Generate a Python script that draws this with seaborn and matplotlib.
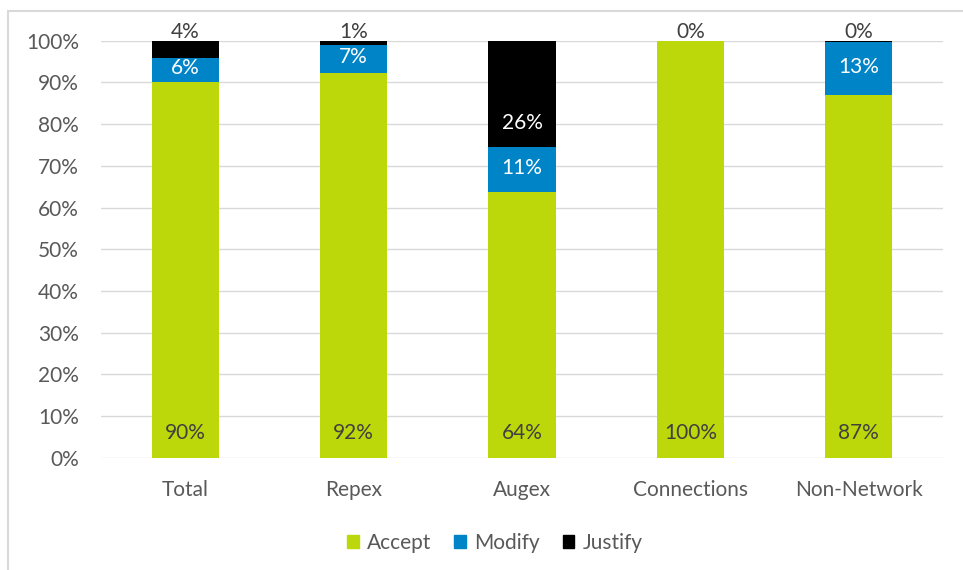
import matplotlib
matplotlib.use("Agg")
import matplotlib.pyplot as plt
import matplotlib.patches as mpatches
import seaborn as sns
import pandas as pd
import numpy as np

categories = ["Total", "Repex", "Augex", "Connections", "Non-Network"]
accept = [90.2, 92.3, 63.8, 100.0, 86.9]
modify = [5.7, 6.6, 10.7, 0.0, 12.9]
justify = [4.1, 1.1, 25.5, 0.0, 0.2]
series_names = ["Accept", "Modify", "Justify"]
yticks = [0, 10, 20, 30, 40, 50, 60, 70, 80, 90, 100]

c_accept = "#BCD80B"
c_modify = "#0084C8"
c_justify = "#000000"
txt = "#595959"

sns.set_theme(style="white")
plt.rcParams["font.family"] = ["Lato", "DejaVu Sans"]

df = pd.DataFrame({"cat": categories,
                   "a": np.array(accept) / 100,
                   "m": np.array(modify) / 100,
                   "j": np.array(justify) / 100})
df["am"] = df["a"] + df["m"]
df["amj"] = df["am"] + df["j"]

fig = plt.figure(figsize=(9.63, 5.70), dpi=100)
ax = fig.add_axes([101 / 963, 1 - 457.7 / 570, 842 / 963, 417 / 570])

# stacked via cumulative overlays
sns.barplot(data=df, x="cat", y="amj", color=c_justify, width=0.4, ax=ax,
            saturation=1, linewidth=0, zorder=2)
sns.barplot(data=df, x="cat", y="am", color=c_modify, width=0.4, ax=ax,
            saturation=1, linewidth=0, zorder=3)
sns.barplot(data=df, x="cat", y="a", color=c_accept, width=0.4, ax=ax,
            saturation=1, linewidth=0, zorder=4)

fs = 15
ax.set_ylim(0, 1)
ax.set_xlim(-0.5, len(categories) - 0.5)
ax.set_yticks(np.array(yticks) / 100)
ax.set_yticklabels([f"{v}%" for v in yticks])
ax.set_xlabel("")
ax.set_ylabel("")
ax.yaxis.grid(True, color="#D9D9D9", linewidth=1.0, zorder=0)
ax.set_axisbelow(True)
for s in ax.spines.values():
    s.set_visible(False)
ax.tick_params(axis="y", length=0, pad=16, labelsize=fs, labelcolor=txt)
ax.tick_params(axis="x", length=0, pad=16, labelsize=fs, labelcolor=txt)

for i, row in df.iterrows():
    # accept: inside base
    ax.text(i, 0.06, f"{round(row['a'] * 100):d}%", ha="center", va="center",
            fontsize=fs, color="#404040", zorder=6)
    # modify: centre of segment
    if row["m"] > 0:
        ax.text(i, row["a"] + row["m"] / 2 + 0.004, f"{round(row['m'] * 100):d}%",
                ha="center", va="center", fontsize=fs, color="white", zorder=6)
    # justify
    base = row["am"]
    top = row["amj"]
    yj = base + 0.058
    if yj < top:
        ax.text(i, yj, f"{round(row['j'] * 100):d}%", ha="center", va="center",
                fontsize=fs, color="white", zorder=6)
    else:
        ax.text(i, top + 0.022, f"{round(row['j'] * 100):d}%", ha="center",
                va="center", fontsize=fs, color="#404040", zorder=6, clip_on=False)

handles = [mpatches.Patch(color=c, label=n)
           for c, n in zip([c_accept, c_modify, c_justify], series_names)]
leg = fig.legend(handles=handles, loc="center", bbox_to_anchor=(495 / 963, 1 - 543 / 570),
                 ncol=3, frameon=False, fontsize=fs, handlelength=0.55, handleheight=0.55,
                 handletextpad=0.4, columnspacing=1.1, labelcolor=txt)

# outer chart border
fig.patches.append(mpatches.Rectangle((8 / 963, -0.2), 1.5, 0.2 + (570 - 11) / 570,
                                      transform=fig.transFigure, fill=False,
                                      edgecolor="#D9D9D9", linewidth=1.5))

fig.savefig("out.png", dpi=100, facecolor="white")
